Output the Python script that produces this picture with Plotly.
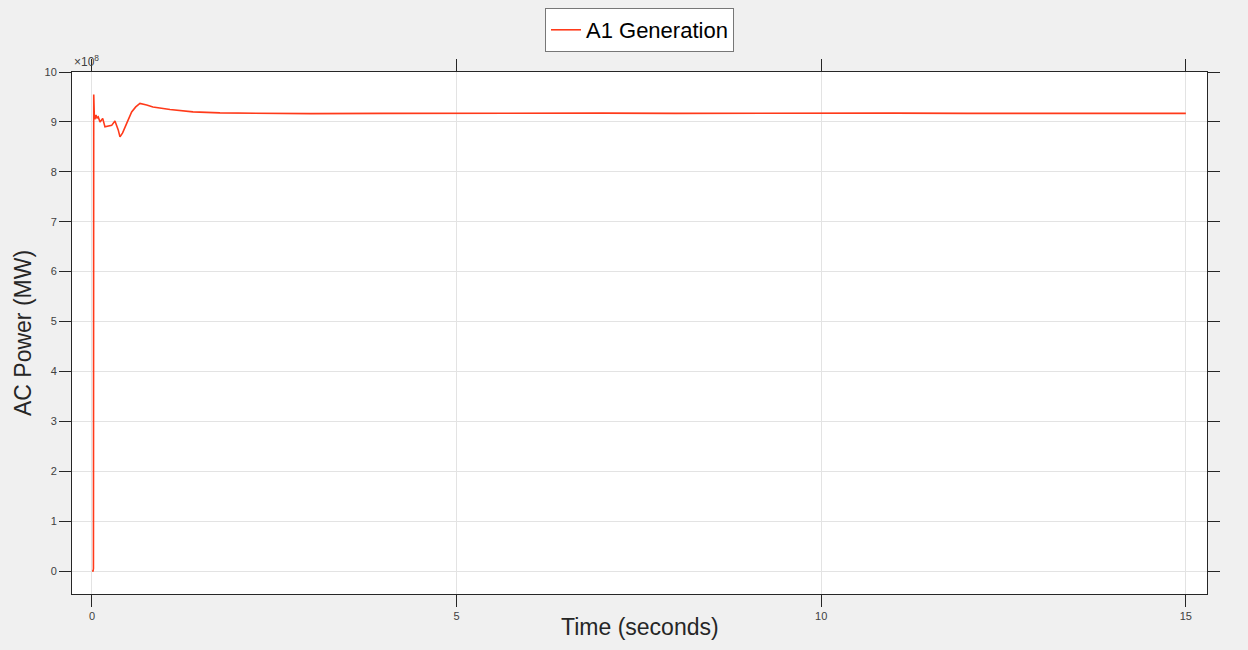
import plotly.graph_objects as go

# Data (time in seconds, power in units of 1e8 MW)
time_s = [0.0, 0.015, 0.02, 0.024, 0.028, 0.032, 0.04, 0.055, 0.07, 0.086, 0.11, 0.147, 0.178,
          0.22, 0.27, 0.315, 0.339, 0.36, 0.384, 0.42, 0.476, 0.544, 0.6, 0.658, 0.75, 0.836,
          1.07, 1.385, 1.755, 2.21, 3.0, 4.0, 5.0, 6.0, 7.0, 8.0, 9.0, 10.0, 11.0, 12.0, 13.0,
          14.0, 15.0]
power_e8 = [0.0, 0.0, 0.05, 9.55, 7.84, 9.12, 9.05, 9.14, 9.08, 9.10, 9.00, 9.07, 8.90,
            8.91, 8.93, 9.02, 8.94, 8.84, 8.70, 8.78, 8.97, 9.20, 9.30, 9.37, 9.34, 9.30,
            9.25, 9.20, 9.18, 9.17, 9.165, 9.17, 9.175, 9.17, 9.175, 9.17, 9.175, 9.17, 9.175,
            9.17, 9.175, 9.17, 9.17]

x_ticks = [0, 5, 10, 15]
y_ticks = [0, 1, 2, 3, 4, 5, 6, 7, 8, 9, 10]

axis_color = "#262626"
grid_color = "#e3e3e3"
font_family = "Liberation Sans, Arial, sans-serif"

fig = go.Figure()
fig.add_trace(go.Scatter(
    x=time_s, y=power_e8, mode="lines", name="A1 Generation",
    line=dict(color="#ff3a1a", width=1.6),
))

fig.update_layout(
    width=1248, height=650,
    paper_bgcolor="#f0f0f0", plot_bgcolor="#ffffff",
    margin=dict(l=72, r=41, t=72, b=56, autoexpand=False),
    font=dict(family=font_family, color=axis_color),
    showlegend=True,
    legend=dict(
        x=0.5, xanchor="center", y=0.9877, yanchor="top", yref="container",
        bgcolor="#ffffff", bordercolor="#777777", borderwidth=1,
        font=dict(size=22, color="#000000", family=font_family),
        itemwidth=30, tracegroupgap=0,
    ),
)

fig.update_xaxes(
    range=[-0.274, 15.29], tickvals=x_ticks, ticktext=[str(v) for v in x_ticks],
    showgrid=True, gridcolor=grid_color, gridwidth=1, zeroline=False,
    showline=True, linecolor=axis_color, linewidth=1, mirror="allticks",
    ticks="outside", ticklen=12, tickcolor=axis_color, tickwidth=1,
    tickfont=dict(size=11, color="#404040"),
)
fig.update_yaxes(
    range=[-0.46, 10.0], tickvals=y_ticks, ticktext=[str(v) for v in y_ticks],
    showgrid=True, gridcolor=grid_color, gridwidth=1, zeroline=False,
    showline=True, linecolor=axis_color, linewidth=1, mirror="allticks",
    ticks="outside", ticklen=12, tickcolor=axis_color, tickwidth=1,
    tickfont=dict(size=11, color="#404040"),
)

fig.add_annotation(
    text="Time (seconds)", xref="paper", yref="paper", x=0.5, y=0,
    yshift=-33, yanchor="middle", showarrow=False,
    font=dict(size=23, color=axis_color, family=font_family),
)
fig.add_annotation(
    text="AC Power (MW)", xref="paper", yref="paper", x=0, y=0.5,
    xshift=-49, xanchor="center", yanchor="middle", textangle=-90, showarrow=False,
    font=dict(size=23, color=axis_color, family=font_family),
)
fig.add_annotation(
    text="\u00d710<sup>8</sup>", xref="paper", yref="paper", x=0, y=1,
    xanchor="left", yanchor="bottom", yshift=1, showarrow=False,
    font=dict(size=12, color="#404040", family=font_family),
)

fig.write_html("out.html", config={"displayModeBar": False},
               post_script="document.body.style.margin='0';")
